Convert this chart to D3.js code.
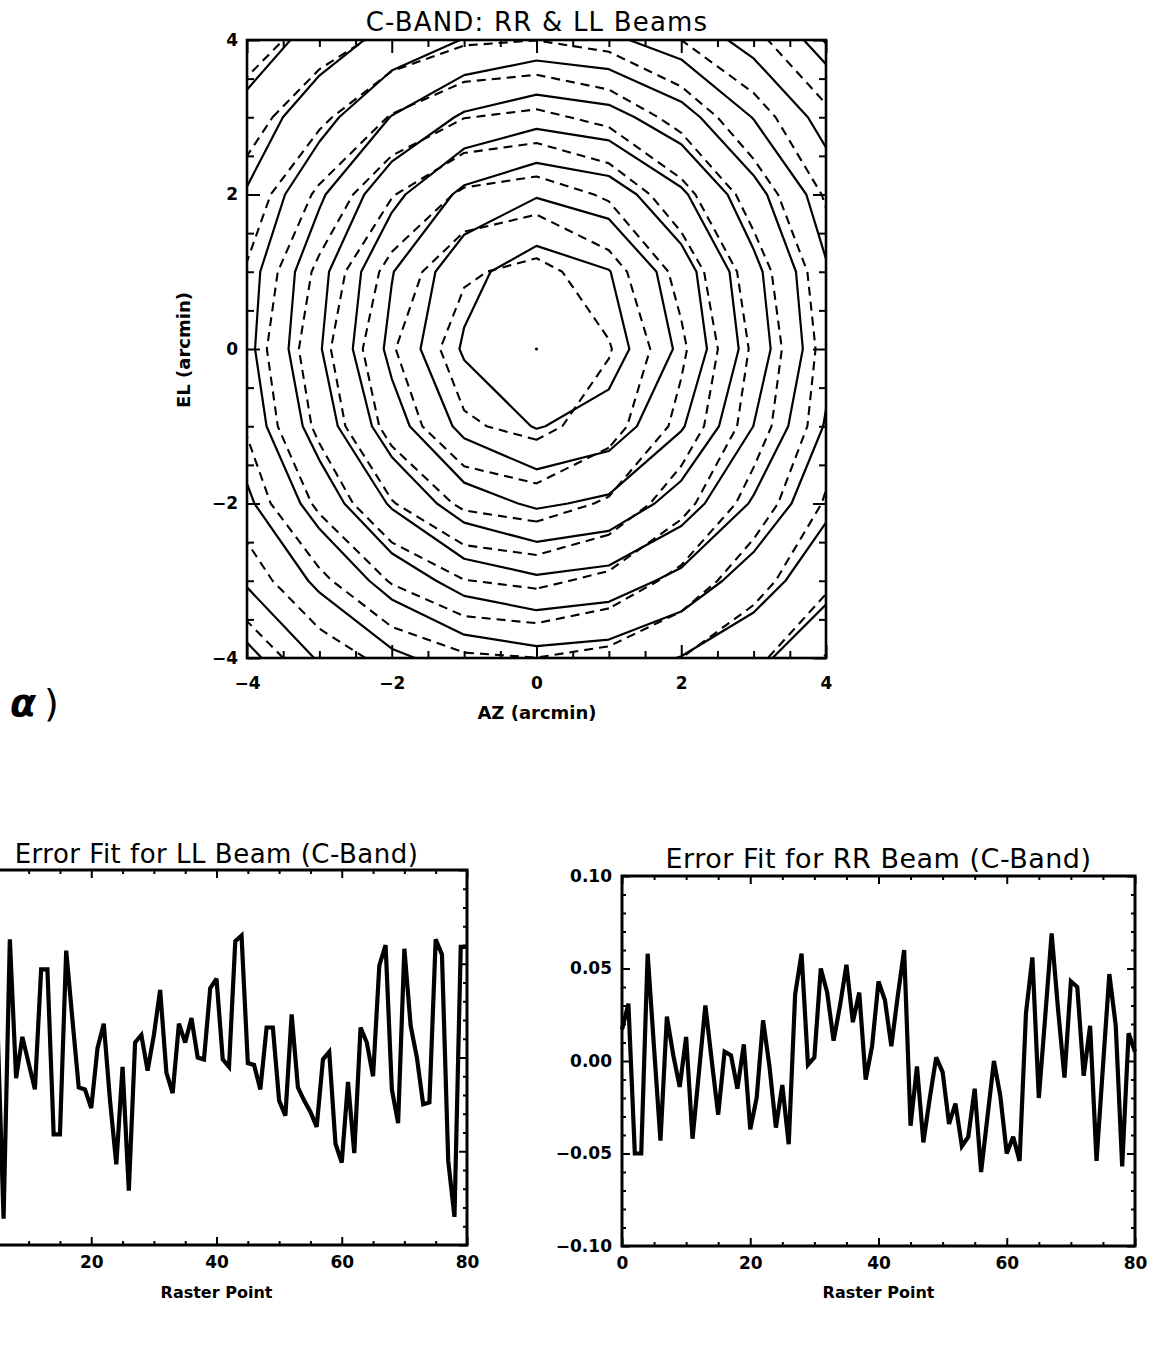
<!DOCTYPE html>
<html><head><meta charset="utf-8">
<script src="https://cdn.jsdelivr.net/npm/d3@7"></script>
<style>
body{margin:0;background:#fff}
svg{display:block;background:#fff}
text{fill:#000}
</style>
</head><body>
<svg id="c" width="1152" height="1352"></svg>
<script>
// ---------------- DATA ----------------
// Beam map grid (1 arcmin spacing), rows from EL=+4 (top) to EL=-4 (bottom)
const gridAz = [-4,-3,-2,-1,0,1,2,3,4];
const gridEl = [4,3,2,1,0,-1,-2,-3,-4];
// contour level index (drop below peak), one contour per level
const contourLevels = [1,2,3,4,5,6,7,8,9,10];
// RR beam (solid contours)
const beamRR = [
  9.72, 8.52, 7.68, 6.96, 6.60, 6.82, 7.46, 8.30, 9.31,
  8.60, 7.39, 5.96, 4.85, 4.34, 4.65, 5.63, 7.04, 8.32,
  7.93, 6.16, 4.29, 2.75, 2.07, 2.48, 3.83, 5.66, 7.50,
  7.38, 5.30, 3.05, 1.31, 0.46, 0.96, 2.54, 4.73, 6.90,
  7.24, 5.08, 2.74, 0.88, 0.03, 0.53, 2.19, 4.47, 6.72,
  7.54, 5.54, 3.42, 1.73, 0.94, 1.43, 2.90, 5.01, 7.08,
  8.16, 6.59, 4.88, 3.47, 2.84, 3.21, 4.46, 6.12, 7.80,
  8.88, 7.84, 6.62, 5.61, 5.18, 5.44, 6.31, 7.52, 8.61,
  10.28, 8.90, 8.19, 7.60, 7.33, 7.49, 8.04, 8.69, 9.88
];
// LL beam (dashed contours)
const beamLL = [
  9.53, 8.47, 7.73, 7.15, 7.01, 7.31, 8.00, 8.74, 10.06,
  8.42, 7.23, 5.92, 5.03, 4.77, 5.27, 6.34, 7.66, 8.78,
  7.58, 5.81, 4.07, 2.80, 2.46, 3.14, 4.65, 6.44, 8.10,
  6.91, 4.77, 2.63, 1.14, 0.69, 1.56, 3.31, 5.50, 7.52,
  6.62, 4.36, 2.09, 0.46, 0.02, 0.92, 2.81, 5.16, 7.31,
  6.91, 4.77, 2.63, 1.14, 0.69, 1.56, 3.31, 5.50, 7.52,
  7.58, 5.81, 4.07, 2.80, 2.46, 3.14, 4.65, 6.44, 8.10,
  8.42, 7.23, 5.92, 5.03, 4.77, 5.27, 6.34, 7.66, 8.78,
  9.53, 8.47, 7.73, 7.15, 7.01, 7.31, 8.00, 8.74, 10.06
];
const azTicks = [-4,-2,0,2,4];
const elTicks = [-4,-2,0,2,4];
const rasterTicks = [0,20,40,60,80];
const errTicks = [-0.10,-0.05,0.00,0.05,0.10];

// Error fit, LL beam (raster points 0-4 lie outside the visible picture)
const errLLStart = 5;
const errLL = [
  0.020,-0.086, 0.063,-0.011, 0.011,-0.003,-0.017, 0.047, 0.047,-0.041,
 -0.041, 0.057, 0.020,-0.016,-0.017,-0.027, 0.005, 0.018,-0.023,-0.057,
 -0.005,-0.071, 0.008, 0.012,-0.007, 0.012, 0.036,-0.008,-0.019, 0.018,
  0.008, 0.021, 0.000,-0.001, 0.037, 0.042,-0.001,-0.005, 0.062, 0.065,
 -0.003,-0.004,-0.017, 0.016, 0.016,-0.023,-0.031, 0.023,-0.016,-0.023,
 -0.029,-0.037,-0.001, 0.003,-0.046,-0.056,-0.013,-0.051, 0.016, 0.008,
 -0.010, 0.049, 0.060,-0.017,-0.035, 0.058, 0.017, 0.000,-0.025,-0.024,
  0.063, 0.055,-0.055,-0.085, 0.059, 0.059
];
// Error fit, RR beam, raster points 0..80
const errRR = [
  0.017, 0.031,-0.050,-0.050, 0.058, 0.007,-0.043, 0.024, 0.003,-0.014,
  0.013,-0.042,-0.006, 0.030, 0.000,-0.029, 0.005, 0.003,-0.015, 0.009,
 -0.037,-0.020, 0.022,-0.003,-0.036,-0.013,-0.045, 0.036, 0.058,-0.002,
  0.002, 0.050, 0.037, 0.011, 0.030, 0.052, 0.021, 0.037,-0.010, 0.008,
  0.043, 0.033, 0.008, 0.035, 0.060,-0.035,-0.003,-0.044,-0.020, 0.002,
 -0.006,-0.034,-0.023,-0.046,-0.041,-0.015,-0.060,-0.030, 0.000,-0.019,
 -0.050,-0.041,-0.054, 0.026, 0.056,-0.020, 0.024, 0.069, 0.028,-0.009,
  0.043, 0.040,-0.008, 0.019,-0.054,-0.003, 0.047, 0.019,-0.057, 0.015,
  0.005
];

// ---------------- DRAWING ----------------
const svg = d3.select("#c");
const FONT = "'DejaVu Sans', 'Liberation Sans', sans-serif";

function range(a,b,s){const r=[];for(let v=a;v<=b+1e-9;v+=s)r.push(+v.toFixed(4));return r;}

function frameAxes(g, x, y, o){
  const [x0,x1] = x.range();
  const [y0,y1] = y.range();
  const add = (axis, tr, w) => {
    const a = g.append("g").attr("transform", tr).call(axis);
    a.select(".domain").remove();
    a.attr("font-family", null).attr("font-size", null);
    a.selectAll("line").attr("stroke","#000").attr("stroke-width", w);
    a.selectAll("text").attr("font-family", FONT).attr("font-size", o.fs)
      .attr("font-weight","bold").attr("fill","#000");
    return a;
  };
  const xMinor = o.xMinor.filter(v=>!o.xMajor.some(m=>Math.abs(m-v)<1e-9));
  const yMinor = o.yMinor.filter(v=>!o.yMajor.some(m=>Math.abs(m-v)<1e-9));
  add(d3.axisBottom(x).tickValues(xMinor).tickSize(-o.minor).tickFormat(""), `translate(0,${y0})`, o.tw);
  add(d3.axisBottom(x).tickValues(o.xMajor).tickSize(-o.major).tickPadding(o.xPad).tickFormat(o.xFmt), `translate(0,${y0})`, o.tw);
  add(d3.axisTop(x).tickValues(xMinor).tickSize(-o.minor).tickFormat(""), `translate(0,${y1})`, o.tw);
  add(d3.axisTop(x).tickValues(o.xMajor).tickSize(-o.major).tickFormat(""), `translate(0,${y1})`, o.tw);
  add(d3.axisLeft(y).tickValues(yMinor).tickSize(-o.minor).tickFormat(""), `translate(${x0},0)`, o.tw);
  add(d3.axisLeft(y).tickValues(o.yMajor).tickSize(-o.major).tickPadding(o.yPad).tickFormat(o.yFmt), `translate(${x0},0)`, o.tw);
  add(d3.axisRight(y).tickValues(yMinor).tickSize(-o.minor).tickFormat(""), `translate(${x1},0)`, o.tw);
  add(d3.axisRight(y).tickValues(o.yMajor).tickSize(-o.major).tickFormat(""), `translate(${x1},0)`, o.tw);
  g.append("rect").attr("x",x0).attr("y",y1).attr("width",x1-x0).attr("height",y0-y1)
    .attr("fill","none").attr("stroke","#000").attr("stroke-width",o.fw);
}

// ----- Top panel: contour map -----
const tX = d3.scaleLinear().domain([-4,4]).range([247,826]);
const tY = d3.scaleLinear().domain([-4,4]).range([658,40]);
const gTop = svg.append("g");
svg.append("defs").append("clipPath").attr("id","clipTop")
  .append("rect").attr("x",tX(-4)).attr("y",tY(4)).attr("width",tX(4)-tX(-4)).attr("height",tY(-4)-tY(4));

const step = gridAz[1]-gridAz[0];
const proj = d3.geoTransform({point: function(cx, cy){
  this.stream.point(tX(gridAz[0] + (cx-0.5)*step), tY(gridEl[0] - (cy-0.5)*step));
}});
const gpath = d3.geoPath(proj);
const contourGen = d3.contours().size([gridAz.length, gridEl.length]).thresholds(contourLevels);
const gC = gTop.append("g").attr("clip-path","url(#clipTop)");
gC.selectAll("path.ll").data(contourGen(beamLL)).join("path").attr("class","ll")
  .attr("d", gpath).attr("fill","none").attr("stroke","#000").attr("stroke-width",2.1)
  .attr("stroke-dasharray","9,6").attr("stroke-linejoin","round");
gC.selectAll("path.rr").data(contourGen(beamRR)).join("path").attr("class","rr")
  .attr("d", gpath).attr("fill","none").attr("stroke","#000").attr("stroke-width",2.2)
  .attr("stroke-linejoin","round");
gTop.append("circle").attr("cx",tX(0)).attr("cy",tY(0)).attr("r",1.6).attr("fill","#000");

frameAxes(gTop, tX, tY, {
  xMajor: azTicks, xMinor: range(-4,4,0.5), yMajor: elTicks, yMinor: range(-4,4,0.5),
  major: 13, minor: 7, tw: 2, fw: 2.6, fs: 17, xPad: 19, yPad: 9,
  xFmt: d3.format("d"), yFmt: d3.format("d")
});
gTop.append("text").attr("x",537).attr("y",31).attr("text-anchor","middle")
  .attr("font-family",FONT).attr("font-size",26).attr("letter-spacing",1.2).text("C-BAND: RR & LL Beams");
gTop.append("text").attr("x",537).attr("y",719).attr("text-anchor","middle")
  .attr("font-family",FONT).attr("font-size",18).attr("font-weight","bold").text("AZ (arcmin)");
gTop.append("text").attr("transform","translate(190,350) rotate(-90)").attr("text-anchor","middle")
  .attr("font-family",FONT).attr("font-size",18).attr("font-weight","bold").text("EL (arcmin)");
const lab = svg.append("text").attr("x",10).attr("y",716).attr("font-family",FONT).attr("font-size",38);
lab.append("tspan").attr("font-weight","bold").attr("font-style","italic").text("α");
lab.append("tspan").attr("dx",8).attr("font-weight","normal").text(")");

// ----- Bottom panels: error fits -----
function errPanel(xr, yr, data, start, title, titleY, titleFs, showYLabels){
  const x = d3.scaleLinear().domain([0,80]).range(xr);
  const y = d3.scaleLinear().domain([-0.10,0.10]).range(yr);
  const g = svg.append("g");
  // tick labels that fall outside the picture (left panel) are left blank
  const xFmt = d => x(d) < 5 ? "" : d3.format("d")(d);
  frameAxes(g, x, y, {
    xMajor: rasterTicks, xMinor: range(0,80,5), yMajor: errTicks, yMinor: range(-0.10,0.10,0.01),
    major: 8, minor: 4, tw: 2, fw: 3, fs: 17, xPad: 11, yPad: 10,
    xFmt: xFmt, yFmt: showYLabels ? d3.format(".2f") : ""
  });
  const line = d3.line().x((d,i)=>x(i+start)).y(d=>y(d));
  g.append("path").datum(data).attr("d",line).attr("fill","none").attr("stroke","#000")
    .attr("stroke-width",4.2).attr("stroke-linejoin","miter").attr("stroke-miterlimit",3);
  const cx = (xr[0]+xr[1])/2;
  g.append("text").attr("x",cx).attr("y",titleY).attr("text-anchor","middle")
    .attr("font-family",FONT).attr("font-size",titleFs).attr("letter-spacing",0.5).text(title);
  g.append("text").attr("x",cx).attr("y",1298).attr("text-anchor","middle")
    .attr("font-family",FONT).attr("font-size",16).attr("font-weight","bold").text("Raster Point");
}
errPanel([-34,467],[1245,870], errLL, errLLStart, "Error Fit for LL Beam (C-Band)", 863, 26, false);
errPanel([622,1135],[1246,876], errRR, 0, "Error Fit for RR Beam (C-Band)", 868, 27, true);
</script>
</body></html>
